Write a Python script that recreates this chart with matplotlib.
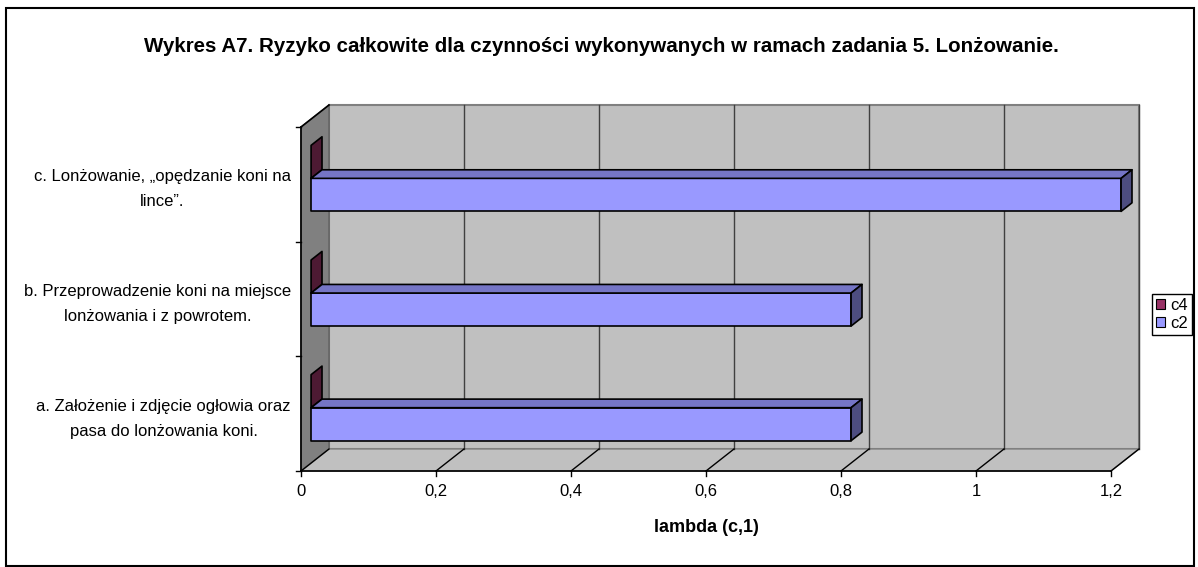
import matplotlib
matplotlib.use('Agg')
import matplotlib.pyplot as plt
from matplotlib.patches import Polygon, Rectangle, Patch

# --- data ---
categories = [
    "a. Założenie i zdjęcie ogłowia oraz\npasa do lonżowania koni.",
    "b. Przeprowadzenie koni na miejsce\nlonżowania i z powrotem.",
    "c. Lonżowanie, „opędzanie koni na\nlince”.",
]
c2_values = [0.8, 0.8, 1.2]
c4_values = [0.0, 0.0, 0.0]
x_ticks = [0, 0.2, 0.4, 0.6, 0.8, 1.0, 1.2]
x_tick_labels = ["0", "0,2", "0,4", "0,6", "0,8", "1", "1,2"]
title = "Wykres A7. Ryzyko całkowite dla czynności wykonywanych w ramach zadania 5. Lonżowanie."
x_label = "lambda (c,1)"

# --- style / 3d geometry ---
plt.rcParams['font.family'] = ['Liberation Sans', 'DejaVu Sans']
W, H = 1198, 567
VMAX = 1.2
DX, DY = 0.0415, 0.192        # depth of the box in data units
F0, FD = 0.36, 0.39           # bar front position / bar thickness (fraction of depth)
BAR_H = 0.288
OFFS = {'c2': -0.161, 'c4': 0.127}
COLS = {
    'c2': ('#9999FF', '#7575C6', '#4D4D80'),
    'c4': ('#993366', '#77284F', '#4D1A33'),
}

fig = plt.figure(figsize=(W / 100, H / 100), dpi=100)
ax = fig.add_axes([301 / W, 96 / H, 838 / W, 366 / H])
ax.set_xlim(0, VMAX + DX)
ax.set_ylim(-0.5, len(categories) - 0.5 + DY)
ax.axis('off')

ytop = len(categories) - 0.5

# walls and floor
ax.add_patch(Rectangle((DX, -0.5 + DY), VMAX, len(categories), facecolor='#C0C0C0',
                       edgecolor='#808080', lw=1.5, clip_on=False, zorder=1))
ax.add_patch(Polygon([(0, -0.5), (DX, -0.5 + DY), (DX, ytop + DY), (0, ytop)],
                     facecolor='#808080', edgecolor='#606060', lw=1, clip_on=False, zorder=1))
ax.add_patch(Polygon([(0, -0.5), (VMAX, -0.5), (VMAX + DX, -0.5 + DY), (DX, -0.5 + DY)],
                     facecolor='#C0C0C0', edgecolor='#808080', lw=1, clip_on=False, zorder=1))

# gridlines
for t in x_ticks[1:]:
    ax.plot([t + DX, t + DX], [-0.5 + DY, ytop + DY], color='#404040', lw=1, zorder=2, clip_on=False)
for t in x_ticks:
    ax.plot([t, t + DX], [-0.5, -0.5 + DY], color='black', lw=1, zorder=2, clip_on=False)

# axis lines
ax.plot([0, VMAX], [-0.5, -0.5], color='black', lw=1.2, zorder=3, clip_on=False)
ax.plot([0, 0], [-0.5, ytop], color='black', lw=1.2, zorder=3, clip_on=False)
ax.plot([0, DX], [ytop, ytop + DY], color='black', lw=1.2, zorder=3, clip_on=False)

# ticks and labels
for t, lab in zip(x_ticks, x_tick_labels):
    ax.plot([t, t], [-0.5, -0.5 - 5 / 114.67], color='black', lw=1, clip_on=False, zorder=3)
    ax.annotate(lab, (t, -0.5), xytext=(0, -20), textcoords='offset pixels',
                ha='center', va='center', fontsize=12)
for k in range(len(categories) + 1):
    ax.plot([0, -5 / 675], [k - 0.5, k - 0.5], color='black', lw=1, clip_on=False, zorder=3)
for i, lab in enumerate(categories):
    ax.annotate(lab, (0, i), xytext=(-10, -5), textcoords='offset pixels',
                ha='right', va='center', multialignment='center', fontsize=12,
                linespacing=1.85)

ax.annotate(x_label, (VMAX / 2, -0.5), xytext=(0, -57), textcoords='offset pixels',
            ha='center', va='center', fontsize=13, fontweight='bold')


# --- 3d bars ---
def bar3d(i, v, series):
    front, top, side = COLS[series]
    x0 = F0 * DX
    x1 = x0 + v
    y0 = i + OFFS[series] - BAR_H / 2 + F0 * DY
    y1 = y0 + BAR_H
    bx, by = FD * DX, FD * DY
    kw = dict(edgecolor='black', lw=1.2, clip_on=False, zorder=4, joinstyle='round')
    if v > 0:
        ax.add_patch(Polygon([(x0, y0), (x1, y0), (x1, y1), (x0, y1)], facecolor=front, **kw))
        ax.add_patch(Polygon([(x0, y1), (x1, y1), (x1 + bx, y1 + by), (x0 + bx, y1 + by)],
                             facecolor=top, **kw))
    ax.add_patch(Polygon([(x1, y0), (x1 + bx, y0 + by), (x1 + bx, y1 + by), (x1, y1)],
                         facecolor=side, **kw))


for i in range(len(categories)):
    bar3d(i, c4_values[i], 'c4')
    bar3d(i, c2_values[i], 'c2')

# title, legend, frame
fig.text(601 / W, 1 - 46 / H, title, ha='center', va='center', fontsize=14.8, fontweight='bold')

handles = [Patch(facecolor=COLS['c4'][0], edgecolor='black', lw=0.8, label='c4'),
           Patch(facecolor=COLS['c2'][0], edgecolor='black', lw=0.8, label='c2')]
leg = fig.legend(handles=handles, loc='center left', bbox_to_anchor=(1152 / W, 1 - 314.5 / H),
                 fontsize=12, frameon=True, fancybox=False, edgecolor='black', framealpha=1,
                 handlelength=0.55, handleheight=0.55, handletextpad=0.3, borderpad=0.25,
                 labelspacing=0.2, borderaxespad=0)
leg.get_frame().set_linewidth(1)

fig.add_artist(Rectangle((6 / W, 1 / H), 1188 / W, 558 / H, transform=fig.transFigure,
                         fill=False, edgecolor='black', lw=1.5))

plt.savefig('out.png', dpi=100)
plt.close()
